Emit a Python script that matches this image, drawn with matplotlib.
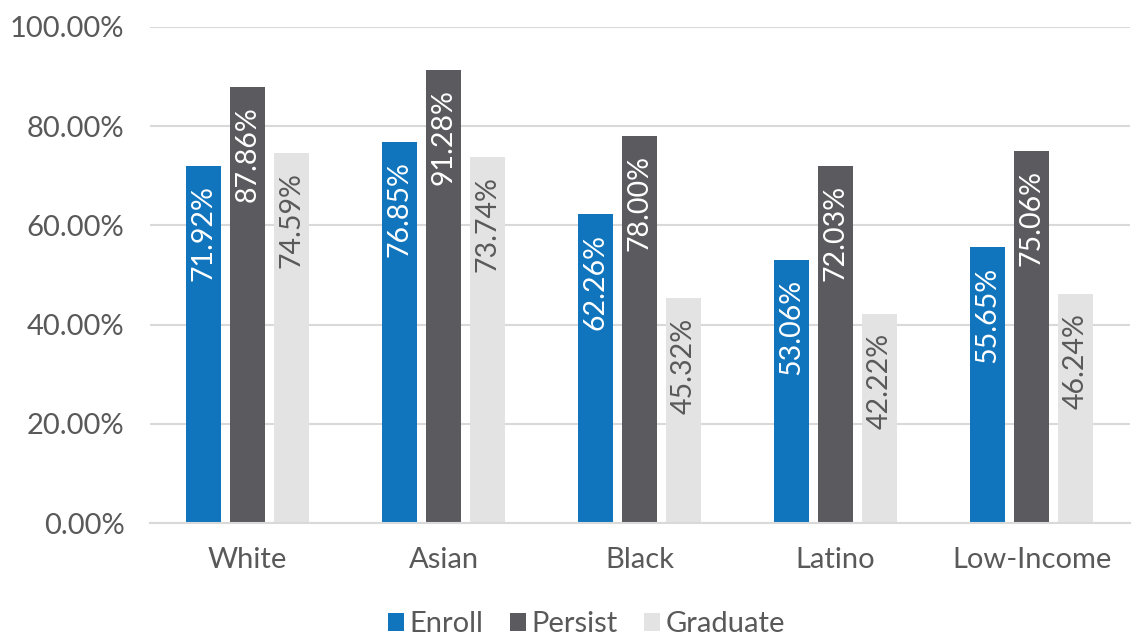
import numpy as np
from matplotlib import pyplot as plt

plt.rcParams["font.family"] = ["Lato", "DejaVu Sans"]

groups = ["White", "Asian", "Black", "Latino", "Low-Income"]
enroll = [71.92, 76.85, 62.26, 53.06, 55.65]
persist = [87.86, 91.28, 78.00, 72.03, 75.06]
graduate = [74.59, 73.74, 45.32, 42.22, 46.24]

series = [
    ("Enroll", enroll, "#1075BD", "white"),
    ("Persist", persist, "#5B5A5F", "white"),
    ("Graduate", graduate, "#E3E3E3", "#595959"),
]

fig = plt.figure(figsize=(11.33, 6.38), dpi=100)
ax = fig.add_axes([0.132, 0.180, 0.865, 0.778])

x = np.arange(len(groups))
width = 0.18
step = 0.224

for i, (name, vals, color, txt_color) in enumerate(series):
    pos = x + (i - 1) * step
    ax.bar(pos, vals, width=width, color=color, label=name, zorder=2)
    for xp, v in zip(pos, vals):
        ax.annotate(f"{v:.2f}%", (xp, v), xytext=(0, -14), textcoords="offset points",
                    rotation=90, ha="center", va="top", color=txt_color,
                    fontsize=20.5, zorder=3)

ax.set_xlim(-0.5, len(groups) - 0.5)
ax.set_ylim(0, 100)
ax.set_yticks(np.arange(0, 101, 20))
ax.set_yticklabels([f"{t:.2f}%" for t in np.arange(0, 101, 20)])
ax.set_xticks(x)
ax.set_xticklabels(groups)
ax.tick_params(axis="both", length=0, labelsize=21, colors="#595959")
ax.tick_params(axis="y", pad=18)
ax.tick_params(axis="x", pad=17)

ax.grid(axis="y", color="#D9D9D9", linewidth=1.5, zorder=0)
for side in ["top", "right", "left"]:
    ax.spines[side].set_visible(False)
ax.spines["bottom"].set_color("#D9D9D9")
ax.spines["bottom"].set_linewidth(1.5)

ax.legend(loc="upper center", bbox_to_anchor=(0.446, -0.125), ncol=3, frameon=False,
          fontsize=21, labelcolor="#595959", handlelength=0.55, handleheight=0.55,
          handletextpad=0.2, columnspacing=0.9)

fig.savefig("out.png", dpi=100)
